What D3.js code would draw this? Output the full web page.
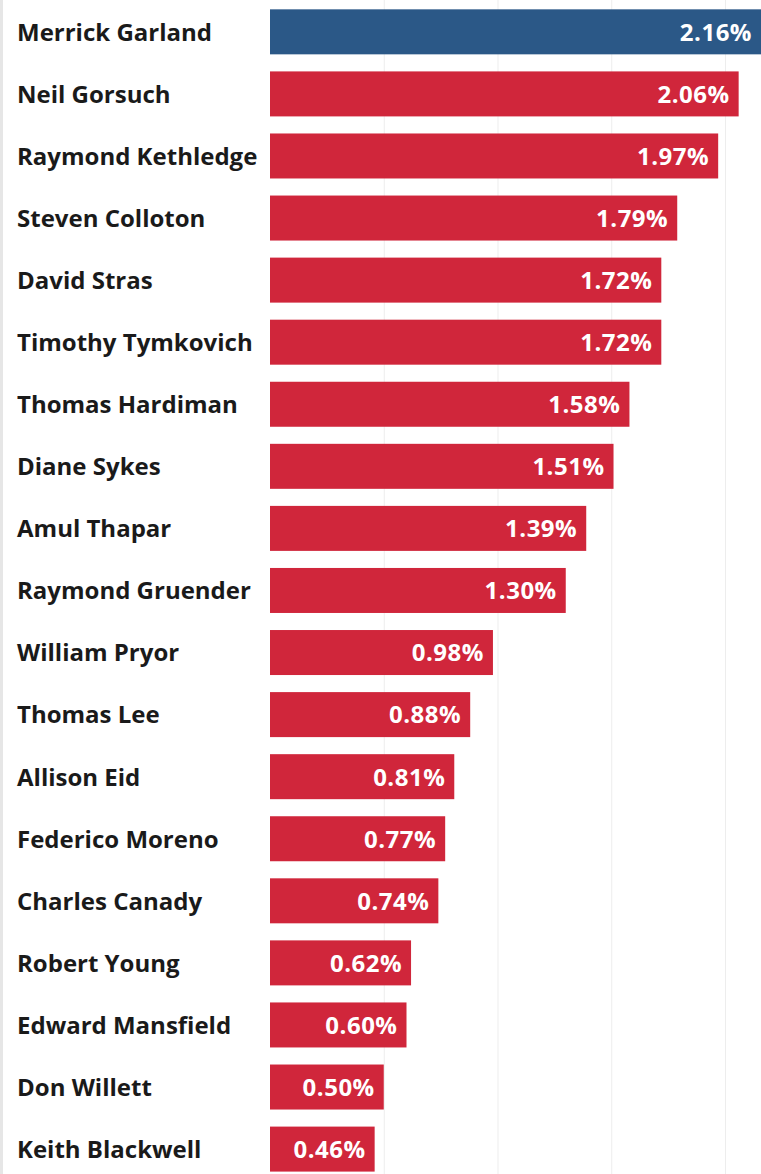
<!DOCTYPE html>
<html>
<head>
<meta charset="utf-8">
<script src="https://cdn.jsdelivr.net/npm/d3@7"></script>
<style>
  body { margin: 0; background: #fff; }
  svg { display: block; }
</style>
</head>
<body>
<svg class="chart"></svg>
<script>
const judges = ["Merrick Garland", "Neil Gorsuch", "Raymond Kethledge", "Steven Colloton",
  "David Stras", "Timothy Tymkovich", "Thomas Hardiman", "Diane Sykes", "Amul Thapar",
  "Raymond Gruender", "William Pryor", "Thomas Lee", "Allison Eid", "Federico Moreno",
  "Charles Canady", "Robert Young", "Edward Mansfield", "Don Willett", "Keith Blackwell"]
const shares = [2.16, 2.06, 1.97, 1.79, 1.72, 1.72, 1.58, 1.51, 1.39, 1.30,
  0.98, 0.88, 0.81, 0.77, 0.74, 0.62, 0.60, 0.50, 0.46]
const gridTicks = [0.5, 1.0, 1.5, 2.0]

const width = 761
const height = 1174
const left = 270
const font = "'Open Sans', sans-serif"

const svg = d3.select('svg.chart')
    .attr('width', width)
    .attr('height', height)

const data = judges.map((name, i) => ({ name: name, value: shares[i] }))

const xScale = d3.scaleLinear()
    .domain([0, 1])
    .range([left, left + 227.5])

const yScale = d3.scaleBand()
    .domain(judges)
    .range([0.8, 0.8 + 19 * 62.07])
    .paddingInner(0.275)
    .paddingOuter(0.1375)

// left border
svg.append('rect')
    .attr('x', 0).attr('y', 0)
    .attr('width', 3).attr('height', height)
    .style('fill', '#e6e6e6')

// grid
svg.append('g')
    .selectAll('line')
    .data(gridTicks)
    .enter()
    .append('line')
    .attr('x1', d => xScale(d) + 0.5)
    .attr('x2', d => xScale(d) + 0.5)
    .attr('y1', 0)
    .attr('y2', height)
    .style('stroke', '#ededed')
    .style('stroke-width', 1)

svg.append('g')
    .selectAll('rect')
    .data(data)
    .enter()
    .append('rect')
    .attr('x', xScale(0))
    .attr('y', d => yScale(d.name))
    .attr('width', d => xScale(d.value) - xScale(0))
    .attr('height', yScale.bandwidth())
    .style('fill', (d, i) => i === 0 ? '#2b5887' : '#d0263b')

// names
svg.append('g')
    .selectAll('text')
    .data(data)
    .enter()
    .append('text')
    .attr('x', 17)
    .attr('y', d => yScale(d.name) + yScale.bandwidth() / 2)
    .attr('dy', '0.37em')
    .style('font-family', font)
    .style('font-weight', 'bold')
    .style('font-size', '24px')
    .style('fill', '#1a1a1a')
    .text(d => d.name)

// value labels
svg.append('g')
    .selectAll('text')
    .data(data)
    .enter()
    .append('text')
    .attr('x', d => Math.min(xScale(d.value), width) - 9)
    .attr('y', d => yScale(d.name) + yScale.bandwidth() / 2)
    .attr('dy', '0.37em')
    .attr('text-anchor', 'end')
    .style('font-family', font)
    .style('font-weight', 'bold')
    .style('font-size', '24px')
    .style('letter-spacing', '0.5px')
    .style('fill', '#ffffff')
    .text(d => d.value.toFixed(2) + '%')
</script>
</body>
</html>
